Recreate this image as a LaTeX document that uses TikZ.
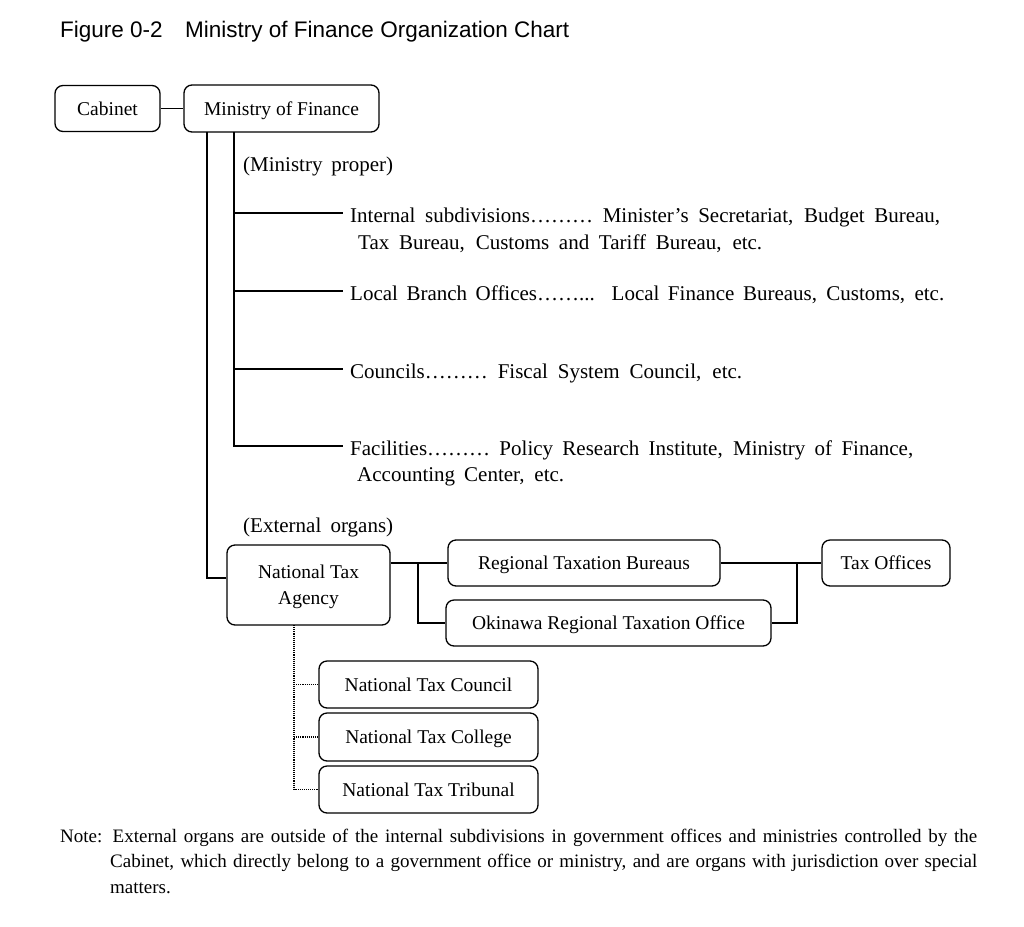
\documentclass[tikz,border=0pt]{standalone}
\usepackage{fontspec}
\setmainfont{Liberation Serif}
\newfontfamily\titlefont{Liberation Sans}
\begin{document}
\begin{tikzpicture}[x=1pt,y=-1pt,
  box/.style={draw,rounded corners=8pt,line width=1.3pt,inner sep=0pt,font=\fontsize{19.5}{26}\selectfont,align=center,text depth=0pt,text height=13.5pt},
  conn/.style={line width=1.3pt},
  dotconn/.style={line width=1.1pt,densely dotted},
  txt/.style={anchor=base west,inner sep=0pt,font=\fontsize{21}{25}\selectfont},
  note/.style={anchor=base west,inner sep=0pt,font=\fontsize{19}{22}\selectfont}]
\useasboundingbox (0,0) rectangle (1024,926);
\node[anchor=base west,inner sep=0pt,font=\titlefont\fontsize{22.5}{26}\selectfont] (title) at (60,37) {Figure 0-2\hspace{1em}Ministry of Finance Organization Chart};

\node[box,minimum width=105pt,minimum height=46pt] (cab) at (107.5,108.5) {Cabinet};
\node[box,minimum width=195pt,minimum height=47pt] (mof) at (281.5,108.5) {Ministry of Finance};
\draw[conn] (cab.east) -- (mof.west);

\node[txt] (mp) at (243,171) {\makebox[150pt][s]{(Ministry proper)}};
\node[txt] (l1a) at (350,222) {\makebox[590pt][s]{Internal subdivisions……… Minister’s Secretariat, Budget Bureau,}};
\node[txt] (l1b) at (358,249) {\makebox[404pt][s]{Tax Bureau, Customs and Tariff Bureau, etc.}};
\node[txt] (l2) at (350,300) {\makebox[594pt][s]{Local Branch Offices……... Local Finance Bureaus, Customs, etc.}};
\node[txt] (l3) at (350,378) {\makebox[392pt][s]{Councils……… Fiscal System Council, etc.}};
\node[txt] (l4a) at (350,455) {\makebox[563pt][s]{Facilities……… Policy Research Institute, Ministry of Finance,}};
\node[txt] (l4b) at (357,481) {\makebox[207pt][s]{Accounting Center, etc.}};
\node[txt] (eo) at (243,532) {\makebox[150pt][s]{(External organs)}};

\coordinate (t1) at (207,132);
\coordinate (t2) at (234,132);
\coordinate (b1) at (343,213);
\coordinate (b2) at (343,291);
\coordinate (b3) at (343,369);
\coordinate (b4) at (343,446);
\draw[conn] (t2) |- (b4);
\draw[conn] (t2 |- b1) -- (b1);
\draw[conn] (t2 |- b2) -- (b2);
\draw[conn] (t2 |- b3) -- (b3);

\node[box,text height={},minimum width=163pt,minimum height=80pt] (nta) at (308.5,585) {National Tax\\Agency};
\draw[conn] (t1) |- ([yshift=7pt]nta.west);

\node[box,minimum width=272pt,minimum height=46pt] (rtb) at (584,563) {Regional Taxation Bureaus};
\node[box,minimum width=325pt,minimum height=46pt] (oki) at (608.5,623) {Okinawa Regional Taxation Office};
\node[box,minimum width=128pt,minimum height=46pt] (tax) at (886,563) {Tax Offices};
\coordinate (j1) at (418,563);
\coordinate (j2) at (797,563);
\draw[conn] (nta.east |- rtb.west) -- (rtb.west);
\draw[conn] (j1) |- (oki.west);
\draw[conn] (rtb.east) -- (tax.west);
\draw[conn] (j2) |- (oki.east);

\node[box,minimum width=219pt,minimum height=47pt] (cou) at (428.5,684.5) {National Tax Council};
\node[box,minimum width=219pt,minimum height=48pt] (col) at (428.5,737) {National Tax College};
\node[box,minimum width=219pt,minimum height=47pt] (tri) at (428.5,789.5) {National Tax Tribunal};
\coordinate (d) at (294,625);
\draw[dotconn] (d) |- (tri.west);
\draw[dotconn] (d |- cou.west) -- (cou.west);
\draw[dotconn] (d |- col.west) -- (col.west);

\node[note] (n1) at (60,842) {\makebox[917pt][s]{Note: External organs are outside of the internal subdivisions in government offices and ministries controlled by the}};
\node[note] (n2) at (110,867) {\makebox[867pt][s]{Cabinet, which directly belong to a government office or ministry, and are organs with jurisdiction over special}};
\node[note] (n3) at (110,893) {matters.};
\end{tikzpicture}
\end{document}
